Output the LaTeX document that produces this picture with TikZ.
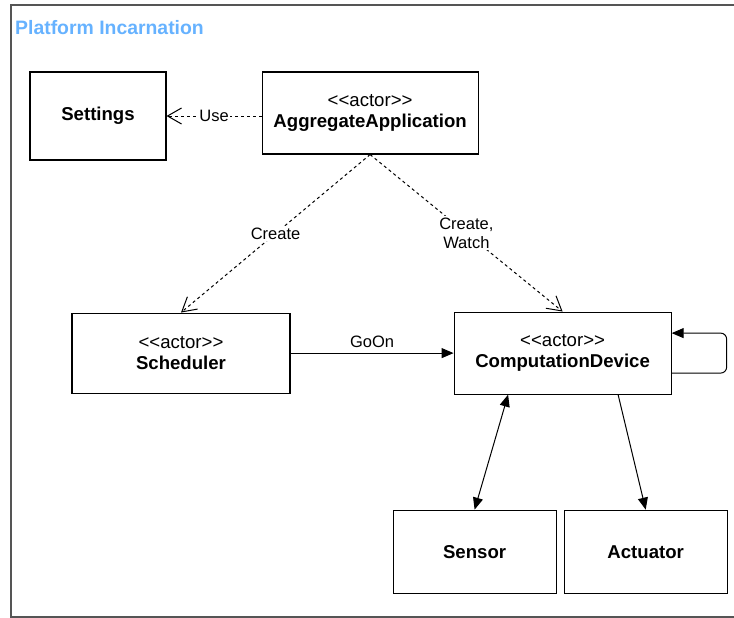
\documentclass[tikz,border=0pt]{standalone}
\usepackage{fontspec}
\setmainfont{Liberation Sans}[Ligatures=TeXOff]
\usetikzlibrary{positioning,arrows.meta}

\definecolor{titleblue}{RGB}{102,178,255}
\definecolor{framegray}{RGB}{85,85,85}

\begin{document}
\begin{tikzpicture}[x=1pt, y=-1pt,
  box/.style={draw, line width=1.1pt, align=center, inner sep=0pt, font=\fontsize{18.6}{21.5}\selectfont},
  actor/.style={box, minimum width=217pt, minimum height=82pt},
  thing/.style={box, minimum width=163pt, minimum height=83pt},
  lbl/.style={fill=white, inner sep=1.5pt, align=center, font=\fontsize{16.5}{19}\selectfont},
  dep/.style={line width=1pt, dash pattern=on 3pt off 3pt, -{Straight Barb[length=14pt, width=16pt, line width=1pt]}},
  msg/.style={line width=1pt, -{Triangle[length=12pt, width=10pt]}}]
\useasboundingbox (0,0) rectangle (734,618);
% frame, open to the right
\draw[framegray, line width=1.5pt] (734,5) -- (11,5) -- (11,617) -- (734,617);
\node[anchor=west, inner sep=0pt, text=titleblue, font=\fontsize{19.4}{22}\selectfont\bfseries] (title) at (15,28) {Platform Incarnation};

\node[box, minimum width=136pt, minimum height=88pt] (settings) at (98,116) {\textbf{Settings}};
\node[actor, right = 95pt of settings, yshift=3pt, minimum width=216pt] (aggregate) {<<actor>>\\\textbf{AggregateApplication}};
\node[actor, below = 152pt of settings, xshift=83pt, minimum width=218pt, minimum height=80pt] (scheduler) {<<actor>>\\\textbf{Scheduler}};
\node[actor, right = 163pt of scheduler] (computation) {<<actor>>\\\textbf{ComputationDevice}};
\node[thing, below = 115pt of computation, xshift=-88pt] (sensor) {\textbf{Sensor}};
\node[thing, right = 7pt of sensor] (actuator) {\textbf{Actuator}};

\path[dep] (settings.east -| aggregate.west) edge node[lbl] {Use} (settings.east);
\path[dep] (aggregate.south) edge node[lbl] {Create} (scheduler.north);
\path[dep] (aggregate.south) edge node[lbl] {Create,\\Watch} (computation.north);

\path[msg] (scheduler) edge node[above=2pt, font=\fontsize{16.5}{19}\selectfont] {GoOn} (computation);
\draw[msg, rounded corners=6pt] ([yshift=-20pt]computation.east) -- ++(55,0) |- ([yshift=20pt]computation.east);

\draw[msg, {Triangle[length=12pt, width=10pt]}-{Triangle[length=12pt, width=10pt]}] ([xshift=-54.5pt]computation.south) -- (sensor.north);
\draw[msg] ([xshift=55.5pt]computation.south) -- (actuator.north);
\end{tikzpicture}
\end{document}
